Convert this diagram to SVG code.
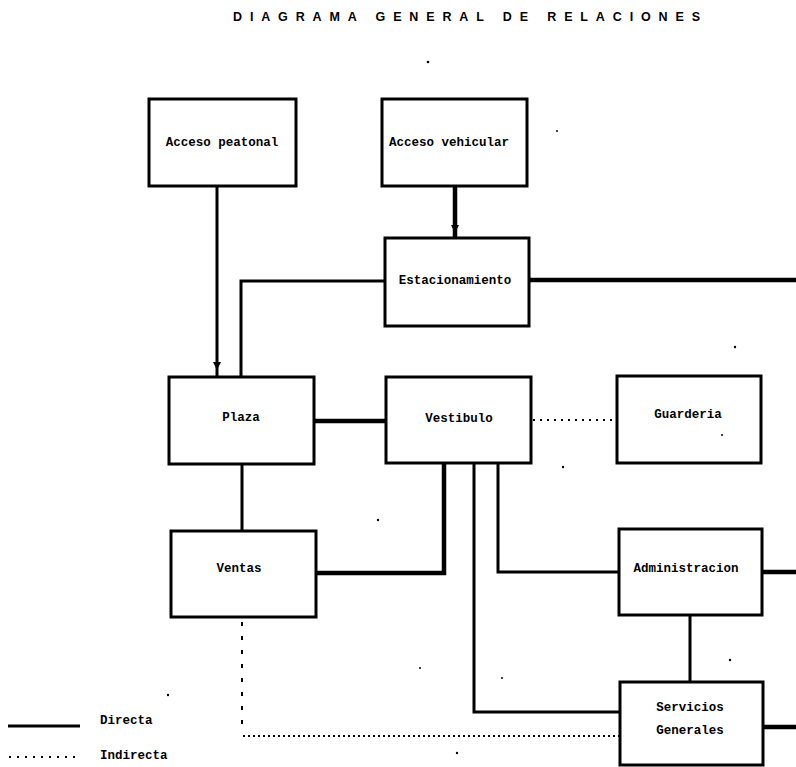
<svg xmlns="http://www.w3.org/2000/svg" width="796" height="767" viewBox="0 0 796 767">
  <style>
    .box { fill: #fff; stroke: #000; stroke-width: 3; }
    .lbl { font-family: "Liberation Mono", "DejaVu Sans Mono", monospace; font-size: 12.5px; font-weight: bold; fill: #000; text-anchor: middle; }
    .title { font-family: "Liberation Sans", Arial, sans-serif; font-size: 12.5px; font-weight: bold; fill: #000; }
    .direct { fill: none; stroke: #000; stroke-width: 3; }
    .heavy { fill: none; stroke: #000; stroke-width: 4.5; }
    .indirect { fill: none; stroke: #000; stroke-width: 2; stroke-dasharray: 2 5; }
    .speck { fill: #000; }
  </style>
  <defs>
    <marker id="arrow" viewBox="0 0 10 10" refX="5" refY="5" markerWidth="9" markerHeight="8" orient="auto" markerUnits="userSpaceOnUse">
      <path d="M0,0 L10,5 L0,10 z" fill="#000"/>
    </marker>
  </defs>

  <rect width="796" height="767" fill="#fff"/>

  <text class="title" x="233" y="21" textLength="467" lengthAdjust="spacing">DIAGRAMA GENERAL DE RELACIONES</text>

  <!-- connectors -->
  <g id="connectors">
    <polyline class="direct" points="217,186 217,366 217,377" marker-mid="url(#arrow)"/>
    <polyline class="heavy" points="455,186 455,229 455,238" marker-mid="url(#arrow)"/>
    <polyline class="direct" points="385,281 241,281 241,377"/>
    <line class="heavy" x1="529" y1="280" x2="796" y2="280"/>
    <line class="heavy" x1="314" y1="421" x2="386" y2="421"/>
    <line class="indirect" x1="533" y1="420" x2="617" y2="420"/>
    <line class="direct" x1="242" y1="464" x2="242" y2="531"/>
    <polyline class="heavy" points="316,573 444,573 444,463"/>
    <polyline class="direct" points="474,463 474,712 620,712"/>
    <polyline class="direct" points="498,463 498,572 619,572"/>
    <line class="heavy" x1="762" y1="572" x2="796" y2="572"/>
    <line class="direct" x1="690" y1="615" x2="690" y2="682"/>
    <line class="heavy" x1="763" y1="727" x2="796" y2="727"/>
    <line class="indirect" x1="242" y1="622" x2="242" y2="732" style="stroke-dasharray:4 10"/>
    <line class="indirect" x1="243" y1="736" x2="620" y2="736" style="stroke-dasharray:2 3"/>
  </g>

  <!-- nodes -->
  <g id="acceso-peatonal">
    <rect class="box" x="149" y="99" width="147" height="87"/>
    <text class="lbl" x="222" y="146">Acceso peatonal</text>
  </g>
  <g id="acceso-vehicular">
    <rect class="box" x="382" y="99" width="145" height="87"/>
    <text class="lbl" x="449" y="146">Acceso vehicular</text>
  </g>
  <g id="estacionamiento">
    <rect class="box" x="385" y="238" width="144" height="88"/>
    <text class="lbl" x="455" y="284">Estacionamiento</text>
  </g>
  <g id="plaza">
    <rect class="box" x="169" y="377" width="145" height="87"/>
    <text class="lbl" x="241" y="421">Plaza</text>
  </g>
  <g id="vestibulo">
    <rect class="box" x="386" y="377" width="145" height="86"/>
    <text class="lbl" x="459" y="422">Vestibulo</text>
  </g>
  <g id="guarderia">
    <rect class="box" x="617" y="376" width="144" height="87"/>
    <text class="lbl" x="688" y="418">Guarderia</text>
  </g>
  <g id="ventas">
    <rect class="box" x="171" y="531" width="145" height="86"/>
    <text class="lbl" x="239" y="572">Ventas</text>
  </g>
  <g id="administracion">
    <rect class="box" x="619" y="529" width="143" height="86"/>
    <text class="lbl" x="686" y="572">Administracion</text>
  </g>
  <g id="servicios-generales">
    <rect class="box" x="620" y="682" width="143" height="83"/>
    <text class="lbl" x="690" y="711">Servicios</text>
    <text class="lbl" x="690" y="734">Generales</text>
  </g>

  <!-- legend -->
  <g id="legend">
    <line class="direct" x1="8" y1="726" x2="80" y2="726"/>
    <text class="lbl" x="100" y="724" style="text-anchor:start">Directa</text>
    <line class="indirect" x1="9" y1="757" x2="80" y2="757" style="stroke-dasharray:2 6"/>
    <text class="lbl" x="100" y="759" style="text-anchor:start">Indirecta</text>
  </g>

  <!-- scattered print specks -->
  <g id="specks">
    <circle class="speck" cx="428" cy="62" r="1.3"/>
    <circle class="speck" cx="557" cy="131" r="1"/>
    <circle class="speck" cx="735" cy="347" r="1.2"/>
    <circle class="speck" cx="722" cy="435" r="1"/>
    <circle class="speck" cx="563" cy="467" r="1.2"/>
    <circle class="speck" cx="378" cy="520" r="1.2"/>
    <circle class="speck" cx="730" cy="660" r="1.2"/>
    <circle class="speck" cx="168" cy="695" r="1.2"/>
    <circle class="speck" cx="420" cy="668" r="1"/>
    <circle class="speck" cx="502" cy="678" r="1"/>
    <circle class="speck" cx="457" cy="753" r="1.2"/>
  </g>
</svg>
